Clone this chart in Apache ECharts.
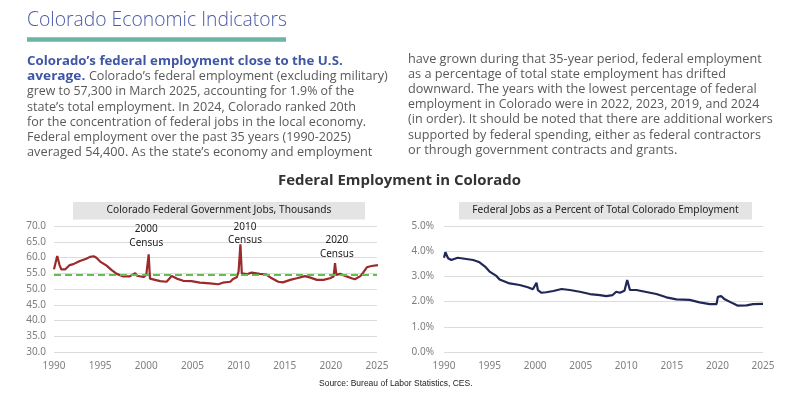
<!DOCTYPE html>
<html><head><meta charset="utf-8">
<script src="https://cdn.jsdelivr.net/npm/echarts@6/dist/echarts.min.js"></script>
<style>html,body{margin:0;padding:0;background:#fff}#c{width:798px;height:394px}</style>
</head><body><div id="c"></div>
<script>
// ---- Data ----
const jobYears = [1990.0,1990.35,1990.6,1990.8,1991.2,1991.7,1992.1,1992.8,1993.5,1993.9,1994.3,1994.6,1995.0,1995.7,1996.25,1996.8,1997.5,1998.2,1998.8,1999.0,1999.7,2000.0,2000.26,2000.4,2000.6,2001.5,2002.2,2002.75,2003.3,2004.0,2004.9,2005.8,2006.9,2007.8,2008.3,2009.1,2009.4,2009.8,2010.0,2010.2,2010.35,2010.5,2010.9,2011.4,2012.3,2013.0,2013.6,2014.3,2014.8,2015.6,2016.3,2017.2,2017.7,2018.5,2019.2,2019.9,2020.3,2020.45,2020.6,2021.0,2021.7,2022.25,2022.6,2023.2,2023.5,2023.9,2024.4,2025.1];
const jobs =     [56.3,60.5,57.6,56.2,56.2,57.6,57.9,58.9,59.6,60.2,60.4,59.9,58.7,57.4,56.0,54.8,54.0,54.0,55.0,54.2,53.8,54.5,61.0,53.3,52.8,52.5,52.3,54.1,53.3,52.6,52.5,52.0,51.8,51.5,52.0,52.3,53.2,53.7,55.5,64.2,55.0,54.7,54.7,55.2,54.8,54.6,53.4,52.3,52.1,52.9,53.4,54.1,53.7,52.9,52.9,53.4,54.0,58.2,54.5,54.8,54.0,53.4,53.1,54.1,55.2,56.9,57.3,57.6];
const jobsAverage = 54.4;
const censusLabels = [
  {year: 2000.0, value: 66.8, text: "2000\nCensus"},
  {year: 2010.7, value: 67.5, text: "2010\nCensus"},
  {year: 2020.65, value: 63.3, text: "2020\nCensus"}
];
const pctYears = [1990.0,1990.15,1990.45,1990.8,1991.5,1992.45,1993.2,1993.9,1994.5,1995.0,1995.75,1996.1,1997.2,1998.3,1999.2,1999.75,2000.15,2000.3,2000.7,2001.2,2002.0,2002.9,2003.8,2004.9,2006.0,2007.1,2007.8,2008.5,2008.9,2009.3,2009.8,2010.1,2010.4,2011.1,2012.2,2013.3,2014.4,2015.5,2016.95,2018.05,2019.15,2019.9,2020.05,2020.25,2020.4,2020.8,2021.7,2022.25,2023.2,2023.9,2025.0];
const pct =      [3.74,3.96,3.72,3.65,3.74,3.69,3.65,3.56,3.39,3.19,3.02,2.88,2.72,2.66,2.57,2.49,2.75,2.46,2.35,2.37,2.42,2.50,2.46,2.39,2.30,2.26,2.22,2.26,2.39,2.35,2.43,2.86,2.46,2.46,2.38,2.30,2.17,2.09,2.07,1.97,1.90,1.90,2.19,2.13,2.22,2.09,1.93,1.84,1.85,1.90,1.91];
const xTicksMin = 1990, xTicksMax = 2025, xTickStep = 5;

const leadText = "Colorado’s federal employment close to the U.S.";
const leadText2 = "average.";
const leftText = [
  "Colorado’s federal employment (excluding military)",
  "grew to 57,300 in March 2025, accounting for 1.9% of the",
  "state’s total employment. In 2024, Colorado ranked 20th",
  "for the concentration of federal jobs in the local economy.",
  "Federal employment over the past 35 years (1990-2025)",
  "averaged 54,400. As the state’s economy and employment"
];
const rightText = [
  "have grown during that 35-year period, federal employment",
  "as a percentage of total state employment has drifted",
  "downward. The years with the lowest percentage of federal",
  "employment in Colorado were in 2022, 2023, 2019, and 2024",
  "(in order). It should be noted that there are additional workers",
  "supported by federal spending, either as federal contractors",
  "or through government contracts and grants."
];

const leftLineEnds  = [342.7, 387.7, 354.3, 356, 366, 351, 372.3];
const rightLineEnds = [761.7, 726, 756.7, 759.3, 772.7, 761, 677.3];

const chart = echarts.init(document.getElementById('c'), null, {renderer: 'canvas'});
const bodyFont = '"Open Sans", sans-serif';
const bodyColor = '#595959';
const blue = '#3f56a6';
const nFont = '11.8px ' + bodyFont;
const bFont = 'bold 12.8px ' + bodyFont;
const lh = 15.15;

const mctx = document.createElement('canvas').getContext('2d');
function tw(font, s) { mctx.font = font; return mctx.measureText(s).width; }

function line(x, y, text, font, fill, target) {
  const w = tw(font, text);
  return {type:'text', x:x, y:y, scaleX: (target - x) / w,
          style:{text:text, font:font, fill:fill, verticalAlign:'middle'}};
}

const headFont = '300 21px "Open Sans", sans-serif';
const titleFont = 'bold 14.6px "Open Sans", sans-serif';
const titleW = tw(titleFont, 'Federal Employment in Colorado');

const graphics = [
  {type:'text', x:27, y:20, scaleX: 260 / tw(headFont, 'Colorado Economic Indicators'),
   style:{text:'Colorado Economic Indicators', font:headFont, fill:'#4a5aa8', verticalAlign:'middle'}},
  {type:'rect', shape:{x:27, y:37.3, width:259, height:4.4}, style:{fill:'#6cb5a5'}},
  line(27, 61.7, leadText, bFont, blue, leftLineEnds[0]),
  (function(){
    const w = tw(bFont, leadText2 + ' ') + tw(nFont, leftText[0]);
    return {type:'text', x:27, y:61.7+lh, scaleX:(leftLineEnds[1]-27)/w,
      style:{text:'{b|' + leadText2 + ' }{n|' + leftText[0] + '}', verticalAlign:'middle',
        rich:{b:{font:bFont, fill:blue}, n:{font:nFont, fill:bodyColor}}}};
  })(),
  {type:'text', x:399.5, y:181, scaleX: 243 / titleW,
   style:{text:'Federal Employment in Colorado', font:titleFont, fill:'#333', align:'center', verticalAlign:'middle'}},
  {type:'rect', shape:{x:73, y:202, width:292, height:17.5}, style:{fill:'#e4e4e4'}},
  {type:'text', x:219, y:210.5, style:{text:'Colorado Federal Government Jobs, Thousands', font:'10.2px "Noto Sans", sans-serif', fill:'#222', align:'center', verticalAlign:'middle'}},
  {type:'rect', shape:{x:459, y:202, width:293, height:17.5}, style:{fill:'#e4e4e4'}},
  {type:'text', x:605.5, y:210.5, style:{text:'Federal Jobs as a Percent of Total Colorado Employment', font:'10.2px "Noto Sans", sans-serif', fill:'#222', align:'center', verticalAlign:'middle'}},
  {type:'text', x:319, y:384, style:{text:'Source: Bureau of Labor Statistics, CES.', font:'8.5px "Liberation Sans", Arial, sans-serif', fill:'#222', verticalAlign:'middle'}}
];
for (let i = 1; i < leftText.length; i++) {
  graphics.push(line(27, 61.7 + (i+1)*lh, leftText[i], nFont, bodyColor, leftLineEnds[i+1]));
}
for (let i = 0; i < rightText.length; i++) {
  graphics.push(line(408, 59.5 + i*lh, rightText[i], nFont, bodyColor, rightLineEnds[i]));
}

const axisLabelStyle = {color:'#7f7f7f', fontSize:10, fontFamily:'"Noto Sans", sans-serif'};
const makeX = (gi) => ({
  type:'value', gridIndex:gi, min:xTicksMin, max:xTicksMax, interval:xTickStep,
  axisLine:{show:false}, axisTick:{show:false}, splitLine:{show:false},
  axisLabel:Object.assign({margin:9, formatter: v => String(v)}, axisLabelStyle)
});

const option = {
  animation:false,
  backgroundColor:'#fff',
  graphic: graphics,
  grid:[
    {left:54, right:421, top:226, bottom:42},
    {left:444, right:35, top:226, bottom:42}
  ],
  xAxis:[makeX(0), makeX(1)],
  yAxis:[
    {type:'value', gridIndex:0, min:30, max:70, interval:5,
     axisLine:{show:false}, axisTick:{show:false},
     splitLine:{lineStyle:{color:'#dcdcdc', width:1}},
     axisLabel:Object.assign({margin:8, formatter: v => v.toFixed(1)}, axisLabelStyle)},
    {type:'value', gridIndex:1, min:0, max:5, interval:1,
     axisLine:{show:false}, axisTick:{show:false},
     splitLine:{lineStyle:{color:'#dcdcdc', width:1}},
     axisLabel:Object.assign({margin:10, formatter: v => v.toFixed(1) + '%'}, axisLabelStyle)}
  ],
  series:[
    {type:'line', xAxisIndex:0, yAxisIndex:0, data: jobYears.map((y,i)=>[y, jobs[i]]),
     symbol:'none', lineStyle:{color:'#9b2a2a', width:2.2}, z:3,
     markLine:{silent:true, symbol:'none', label:{show:false},
       lineStyle:{color:'#66bb55', type:[7,4], width:2}, data:[{yAxis:jobsAverage}]},
     markPoint:{symbol:'circle', symbolSize:0, silent:true,
       label:{show:true, position:'inside', color:'#222', fontSize:10, lineHeight:13.5, fontFamily:'"Noto Sans", sans-serif',
              formatter: p => p.data.txt},
       data: censusLabels.map(c => ({coord:[c.year, c.value], txt:c.text}))}
    },
    {type:'line', xAxisIndex:1, yAxisIndex:1, data: pctYears.map((y,i)=>[y, pct[i]]),
     symbol:'none', lineStyle:{color:'#1f2757', width:2.2}}
  ]
};
chart.setOption(option);
</script></body></html>
